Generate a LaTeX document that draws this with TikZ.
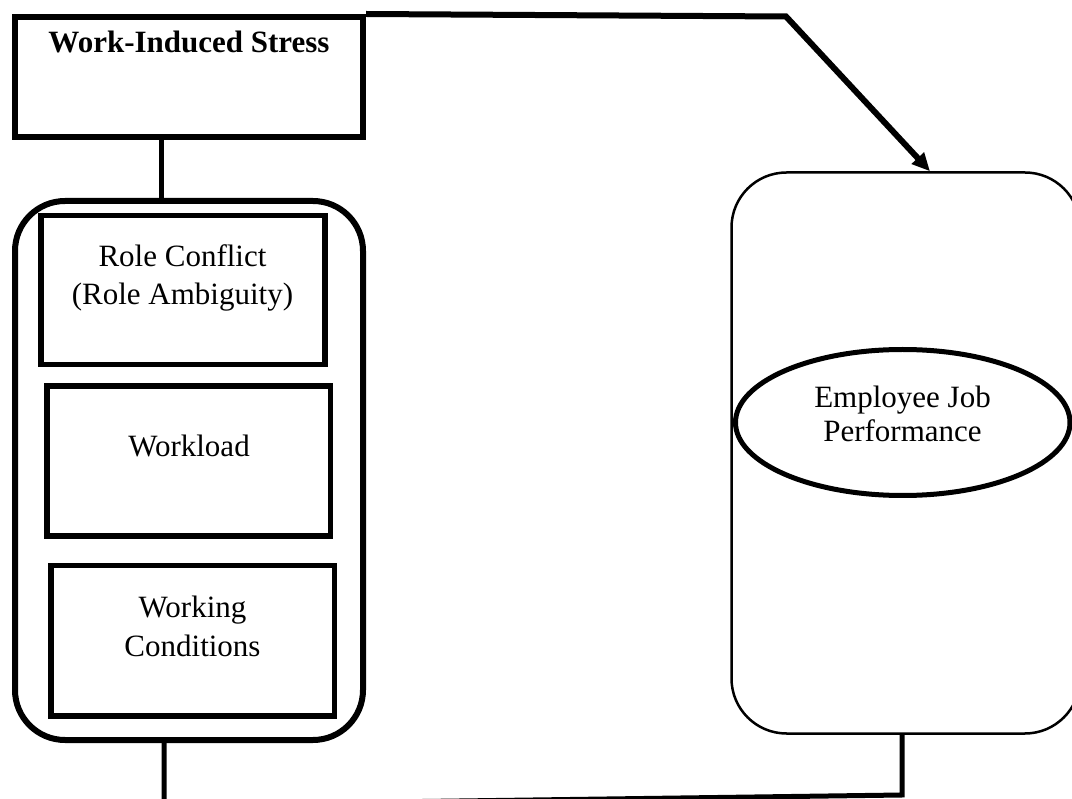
\documentclass[tikz,border=0pt]{standalone}
\usepackage{fontspec}
\setmainfont{Liberation Serif}
\usetikzlibrary{arrows.meta,shapes.geometric}
\begin{document}
\begin{tikzpicture}[x=1pt,y=-1pt,
  thickbox/.style={draw,rectangle,inner sep=0pt,line width=6pt},
  innerbox/.style={draw,rectangle,inner sep=0pt,line width=5.5pt},
  lbl/.style={anchor=base,inner sep=0pt,font=\fontsize{31}{36}\selectfont},
  conn/.style={line width=5pt},
  arr/.style={line width=6pt,-{Triangle[length=18pt,width=16pt]}}]
\useasboundingbox (0,0) rectangle (1072,799);
\clip (0,0) rectangle (1072,799);
% left side
\node[thickbox,minimum width=348pt,minimum height=120.5pt] (top) at (189,77.25) {};
\node[lbl,font=\fontsize{31}{36}\selectfont\bfseries] (toptxt) at (189,53) {Work-Induced Stress};
\node[thickbox,rounded corners=50pt,minimum width=348pt,minimum height=539pt] (cont) at (189,470.5) {};
\node[innerbox,minimum width=284pt,minimum height=149pt] (role) at (183,290) {};
\node[lbl] (role1) at (182.5,267) {Role Conflict};
\node[lbl] (role2) at (182.5,305) {(Role Ambiguity)};
\node[innerbox,minimum width=283.5pt,minimum height=150pt] (load) at (188.75,461) {};
\node[lbl] (loadtxt) at (189,457) {Workload};
\node[innerbox,minimum width=283.5pt,minimum height=150.5pt] (cond) at (192.75,640.75) {};
\node[lbl] (cond1) at (192.5,618) {Working};
\node[lbl] (cond2) at (192.5,656) {Conditions};
% right side
\node[draw,rectangle,inner sep=0pt,line width=2.5pt,rounded corners=55pt,minimum width=348.5pt,minimum height=561pt] (rr) at (905.75,453) {};
\node[draw,ellipse,inner sep=0pt,line width=5pt,minimum width=334.5pt,minimum height=146pt] (ell) at (902.75,422.5) {};
\node[lbl] (ell1) at (902.5,408) {Employee Job};
\node[lbl] (ell2) at (902.5,442) {Performance};
% connectors
\coordinate (v1) at (161.5,0);
\draw[conn] (top.south -| v1) -- (cont.north -| v1);
\coordinate (bend) at (786,16.5);
\coordinate (tipx) at (930,0);
\draw[arr,line join=miter] (top.north east) -- (bend) -- (rr.north -| tipx);
\coordinate (b1) at (164,0);
\coordinate (bl) at (164,805);
\coordinate (br) at (902,795);
\draw[conn,line join=miter] (cont.south -| b1) -- (bl) -- (br) -- (rr.south -| br);
\end{tikzpicture}
\end{document}
